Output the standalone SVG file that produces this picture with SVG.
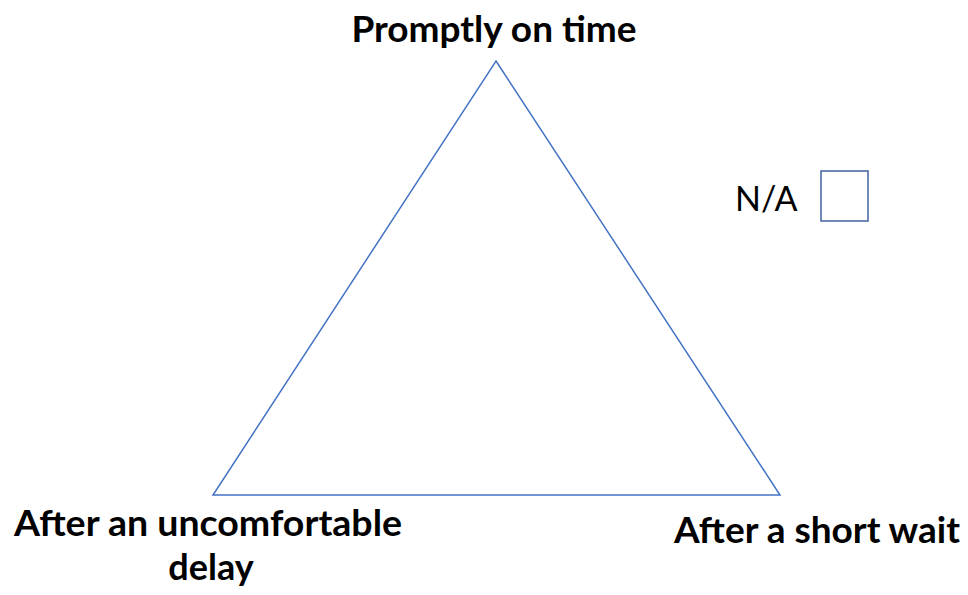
<svg xmlns="http://www.w3.org/2000/svg" width="968" height="595" viewBox="0 0 968 595">
  <style>
    .lbl { font-family: Lato, "Open Sans", "Liberation Sans", sans-serif; font-weight: bold; font-size: 37px; fill: #000; }
    .lbl2 { font-family: Lato, "Open Sans", "Liberation Sans", sans-serif; font-weight: bold; font-size: 36px; fill: #000; }
    .na { font-family: Lato, "Open Sans", "Liberation Sans", sans-serif; font-size: 34px; fill: #000; }
    .edge { fill: none; stroke: #4472C4; stroke-width: 1.5; }
  </style>
  <rect width="968" height="595" fill="#fff"/>
  <g id="connectors">
    <polygon class="edge" points="496,61 780,495 213,495"/>
  </g>
  <g id="node-top">
    <text class="lbl" x="494" y="42" text-anchor="middle">Promptly on time</text>
  </g>
  <g id="node-left">
    <text class="lbl2" x="208" y="536" text-anchor="middle" textLength="388" lengthAdjust="spacingAndGlyphs">After an uncomfortable</text>
    <text class="lbl2" x="211" y="580" text-anchor="middle">delay</text>
  </g>
  <g id="node-right">
    <text class="lbl" x="817" y="543" text-anchor="middle">After a short wait</text>
  </g>
  <g id="node-na">
    <text class="na" x="735" y="211">N/A</text>
    <rect x="821" y="171" width="47" height="50" fill="#fff" stroke="#41629E" stroke-width="1.5"/>
  </g>
</svg>
